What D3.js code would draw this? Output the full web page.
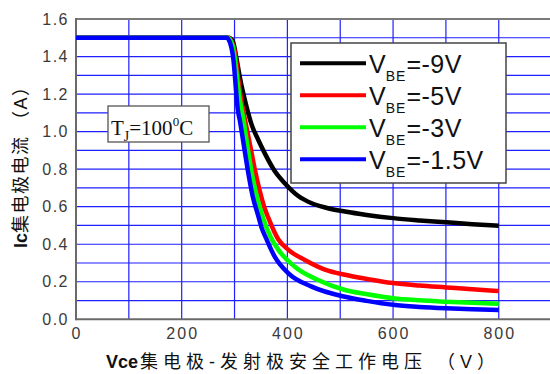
<!DOCTYPE html>
<html>
<head>
<meta charset="utf-8">
<script src="https://cdn.jsdelivr.net/npm/d3@7"></script>
<style>
  body { margin: 0; background: #fff; }
  svg { display: block; }
</style>
</head>
<body>
<div id="chart"></div>
<script>
// series: Ic vs Vce for several VBE values
var legendLabels = ["-9V", "-5V", "-3V", "-1.5V"];
var colors = ["#000000", "#ff0000", "#00ff00", "#0000ff"];

var vceM9  = [0, 289, 297, 303, 310, 323, 332, 345, 358, 376, 395, 420, 446, 475, 509, 550, 600, 650, 700, 750, 800];
var icM9   = [1.5, 1.5, 1.48, 1.40, 1.29, 1.13, 1.04, 0.955, 0.88, 0.79, 0.725, 0.658, 0.618, 0.593, 0.574, 0.556, 0.539, 0.527, 0.517, 0.507, 0.499];

var vceM5  = [0, 288, 296, 302, 307, 313, 320, 330, 339, 348, 356, 364, 383, 402, 433, 471, 509, 550, 600, 650, 700, 750, 800];
var icM5   = [1.5, 1.5, 1.47, 1.40, 1.28, 1.16, 1.06, 0.92, 0.79, 0.68, 0.60, 0.54, 0.425, 0.37, 0.316, 0.265, 0.237, 0.215, 0.193, 0.18, 0.17, 0.16, 0.151];

var vceM3  = [0, 287, 295, 300, 305, 310, 317, 324, 332, 340, 354, 368, 383, 414, 458, 509, 550, 600, 650, 700, 750, 800];
var icM3   = [1.5, 1.5, 1.47, 1.40, 1.28, 1.17, 1.06, 0.93, 0.79, 0.68, 0.54, 0.44, 0.37, 0.28, 0.209, 0.156, 0.134, 0.112, 0.101, 0.094, 0.088, 0.083];

var vceM15 = [0, 285, 293, 298, 302, 306, 310, 318, 326, 334, 345, 351, 360, 376, 402, 446, 509, 550, 600, 650, 700, 750, 800];
var icM15  = [1.5, 1.5, 1.46, 1.38, 1.25, 1.12, 1.06, 0.92, 0.78, 0.66, 0.55, 0.49, 0.43, 0.334, 0.245, 0.174, 0.12, 0.098, 0.077, 0.066, 0.059, 0.054, 0.05];

var xTicks = [0, 200, 400, 600, 800];
var yTicks = [0, 0.2, 0.4, 0.6, 0.8, 1.0, 1.2, 1.4, 1.6];
var xGrid = [100, 200, 300, 400, 500, 600, 700, 800, 900];
var yGrid = [0.1, 0.2, 0.3, 0.4, 0.5, 0.6, 0.7, 0.8, 0.9, 1.0, 1.1, 1.2, 1.3, 1.4, 1.5];

var W = 550, H = 374;
var x = d3.scaleLinear().domain([0, 900]).range([76, 551.6]);
var y = d3.scaleLinear().domain([0, 1.6]).range([319.3, 19]);

function zip(xs, ys) {
    return xs.map(function(v, i) { return { v: v, i: ys[i] }; });
}
var series = [zip(vceM9, icM9), zip(vceM5, icM5), zip(vceM3, icM3), zip(vceM15, icM15)];

var svg = d3.select("#chart").append("svg")
    .attr("width", W).attr("height", H);

// grid
svg.append("g").selectAll("line").data(xGrid).enter().append("line")
    .attr("x1", function(d) { return x(d); }).attr("x2", function(d) { return x(d); })
    .attr("y1", y(0)).attr("y2", y(1.6))
    .attr("stroke", "#1f1fff").attr("stroke-width", 1.2);
svg.append("g").selectAll("line").data(yGrid).enter().append("line")
    .attr("x1", x(0)).attr("x2", W)
    .attr("y1", function(d) { return y(d); }).attr("y2", function(d) { return y(d); })
    .attr("stroke", "#1f1fff").attr("stroke-width", 1.2);

// frame
svg.append("line").attr("x1", x(0)).attr("x2", W).attr("y1", y(1.6)).attr("y2", y(1.6))
    .attr("stroke", "#7a7a7a").attr("stroke-width", 2);
svg.append("line").attr("x1", x(0)).attr("x2", W).attr("y1", y(0)).attr("y2", y(0))
    .attr("stroke", "#6a6a6a").attr("stroke-width", 2);
svg.append("line").attr("x1", x(0)).attr("x2", x(0)).attr("y1", y(0) + 1).attr("y2", y(1.6) - 1)
    .attr("stroke", "#6a6a6a").attr("stroke-width", 2);

// tick labels
svg.append("g").selectAll("text").data(yTicks).enter().append("text")
    .attr("x", 69).attr("y", function(d) { return y(d) + 5.5; })
    .attr("text-anchor", "end")
    .style("font-family", "Liberation Sans, Arial, sans-serif")
    .style("font-size", "16px").style("letter-spacing", "1.5px")
    .attr("fill", "#3a3a3a")
    .text(function(d) { return d.toFixed(1); });
svg.append("g").selectAll("text").data(xTicks).enter().append("text")
    .attr("x", function(d) { return x(d) + 1; }).attr("y", 339)
    .attr("text-anchor", "middle")
    .style("font-family", "Liberation Sans, Arial, sans-serif")
    .style("font-size", "16px").style("letter-spacing", "2px")
    .attr("fill", "#3a3a3a")
    .text(function(d) { return d; });

// axis titles
var xt = svg.append("text")
    .attr("x", 106).attr("y", 368)
    .style("font-family", "Liberation Sans, 'Noto Sans CJK SC', sans-serif")
    .style("font-size", "18px").attr("fill", "#111");
xt.append("tspan").style("font-weight", "bold").text("Vce");
xt.append("tspan").attr("dx", 2).style("letter-spacing", "5px").text("集电极-发射极安全工作电压 （V）");

var yt = svg.append("text")
    .attr("transform", "translate(27,248) rotate(-90)")
    .style("font-family", "Liberation Sans, 'Noto Sans CJK SC', sans-serif")
    .style("font-size", "18px").attr("fill", "#111");
yt.append("tspan").style("font-weight", "bold").text("Ic");
yt.append("tspan").style("letter-spacing", "1.5px").text("集电极电流 （A）");

// curves
var line = d3.line()
    .curve(d3.curveMonotoneX)
    .x(function(d) { return x(d.v); })
    .y(function(d) { return y(d.i); });
series.forEach(function(s, k) {
    svg.append("path").datum(s)
        .attr("d", line)
        .attr("fill", "none")
        .attr("stroke", colors[k])
        .attr("stroke-width", 4.5)
        .attr("stroke-linejoin", "round");
});

// TJ annotation
svg.append("rect").attr("x", 108).attr("y", 106).attr("width", 101).attr("height", 36)
    .attr("fill", "#fff").attr("stroke", "#555").attr("stroke-width", 1.3);
var tj = svg.append("text").attr("x", 111).attr("y", 134.5)
    .style("font-family", "Liberation Serif, 'Times New Roman', serif")
    .style("font-size", "21px").attr("fill", "#111");
tj.append("tspan").text("T");
tj.append("tspan").attr("dy", 6).style("font-size", "14px").text("J");
tj.append("tspan").attr("dy", -6).text("=100");
tj.append("tspan").attr("dy", -9).style("font-size", "13px").text("0");
tj.append("tspan").attr("dy", 9).text("C");

// legend
svg.append("rect").attr("x", 291).attr("y", 43).attr("width", 215).attr("height", 140)
    .attr("fill", "#fff").attr("stroke", "#444").attr("stroke-width", 1.5);
legendLabels.forEach(function(lab, k) {
    var ly = 63.3 + k * 32;
    svg.append("line").attr("x1", 300).attr("x2", 366).attr("y1", ly).attr("y2", ly)
        .attr("stroke", colors[k]).attr("stroke-width", 4);
    var t = svg.append("text").attr("x", 369).attr("y", ly + 9.5)
        .style("font-family", "Liberation Sans, Arial, sans-serif")
        .style("font-size", "25px").attr("fill", "#111");
    t.append("tspan").text("V");
    t.append("tspan").attr("dy", 8.5).style("font-size", "14px").style("letter-spacing", "1px").text("BE");
    t.append("tspan").attr("dy", -8.5).style("letter-spacing", "0.5px").text("=" + lab);
});
</script>
</body>
</html>
